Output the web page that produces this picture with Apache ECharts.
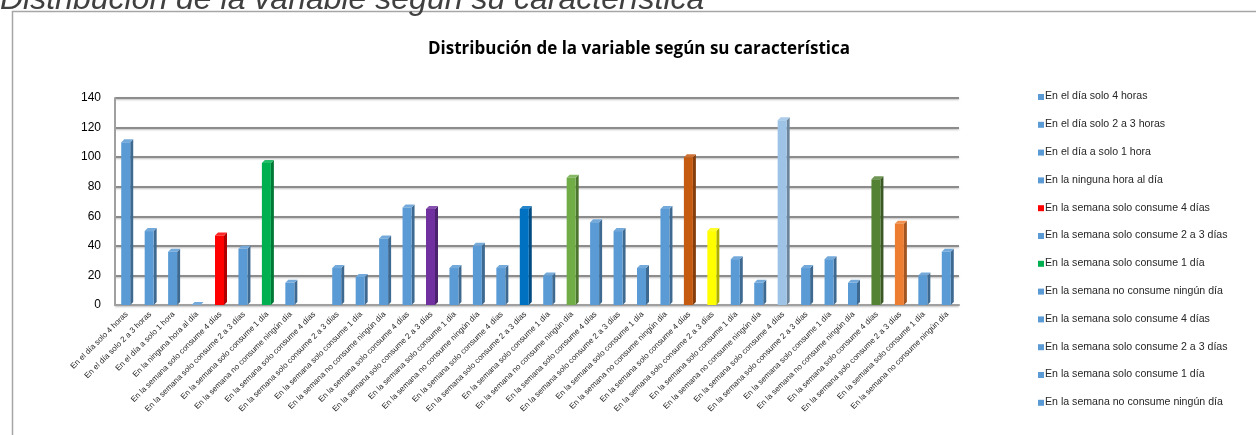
<!DOCTYPE html>
<html>
<head>
<meta charset="utf-8">
<script src="https://cdn.jsdelivr.net/npm/echarts@6/dist/echarts.min.js"></script>
<style>
  html, body { margin: 0; padding: 0; background: #fff; }
  #chart { width: 1256px; height: 435px; }
</style>
</head>
<body>
<div id="chart"></div>
<script>
// categorías del eje X (36 barras)
var categories = [
  'En el día solo 4 horas', 'En el día solo 2 a 3 horas', 'En el día a solo 1 hora', 'En la ninguna hora al día',
  'En la semana solo consume 4 días', 'En la semana solo consume 2 a 3 días', 'En la semana solo consume 1 día', 'En la semana no consume ningún día',
  'En la semana solo consume 4 días', 'En la semana solo consume 2 a 3 días', 'En la semana solo consume 1 día', 'En la semana no consume ningún día',
  'En la semana solo consume 4 días', 'En la semana solo consume 2 a 3 días', 'En la semana solo consume 1 día', 'En la semana no consume ningún día',
  'En la semana solo consume 4 días', 'En la semana solo consume 2 a 3 días', 'En la semana solo consume 1 día', 'En la semana no consume ningún día',
  'En la semana solo consume 4 días', 'En la semana solo consume 2 a 3 días', 'En la semana solo consume 1 día', 'En la semana no consume ningún día',
  'En la semana solo consume 4 días', 'En la semana solo consume 2 a 3 días', 'En la semana solo consume 1 día', 'En la semana no consume ningún día',
  'En la semana solo consume 4 días', 'En la semana solo consume 2 a 3 días', 'En la semana solo consume 1 día', 'En la semana no consume ningún día',
  'En la semana solo consume 4 días', 'En la semana solo consume 2 a 3 días', 'En la semana solo consume 1 día', 'En la semana no consume ningún día'
];

// valores
var values = [
  110, 50, 36, 0, 47, 38, 96, 15,
  null, 25, 19, 45, 66, 65, 25, 40,
  25, 65, 20, 86, 56, 50, 25, 65,
  100, 50, 31, 15, 125, 25, 31, 15,
  85, 55, 20, 36
];

var yTicks = [0, 20, 40, 60, 80, 100, 120, 140];

// colores por barra (estilo)
var BLUE = '#5B9BD5';
var specialColors = {
  4: '#FF0000', 6: '#00B050', 13: '#7030A0', 17: '#0070C0', 19: '#70AD47',
  24: '#C55A11', 25: '#FFFF00', 28: '#9DC3E6', 32: '#548235', 33: '#ED7D31'
};
var barColors = categories.map(function (c, i) { return specialColors[i] || BLUE; });

// la leyenda solo muestra las 12 primeras entradas
var legendCount = 12;

var chart = echarts.init(document.getElementById('chart'));

// oscurece/aclara un color hex: f < 1 oscurece, f > 1 aclara
function shade(hex, f) {
  var n = parseInt(hex.slice(1), 16);
  var r = (n >> 16) & 255, g = (n >> 8) & 255, b = n & 255;
  function ch(x) {
    return f < 1 ? Math.round(x * f) : Math.round(x + (255 - x) * (f - 1));
  }
  return 'rgb(' + ch(r) + ',' + ch(g) + ',' + ch(b) + ')';
}

function renderBar(params, api) {
  var v = api.value(1);
  if (v == null || isNaN(v)) return null;
  var top = api.coord([api.value(0), v]);
  var base = api.coord([api.value(0), 0]);
  var w = 9, d = 3;
  var x0 = top[0] - w / 2 - 1;
  var c = barColors[params.dataIndex];
  var side = shade(c, 0.68);
  var topC = shade(c, 1.15);
  return {
    type: 'group',
    children: [
      { type: 'polygon', shape: { points: [[x0 + w, top[1]], [x0 + w + d, top[1] - d], [x0 + w + d, base[1] - d], [x0 + w, base[1]]] }, style: { fill: side } },
      { type: 'polygon', shape: { points: [[x0, top[1]], [x0 + d, top[1] - d], [x0 + w + d, top[1] - d], [x0 + w, top[1]]] }, style: { fill: topC } },
      { type: 'rect', shape: { x: x0, y: top[1], width: w, height: base[1] - top[1] }, style: { fill: c } }
    ]
  };
}

var legendGraphics = [];
for (var i = 0; i < legendCount; i++) {
  var yy = 97 + i * 27.8;
  legendGraphics.push({
    type: 'rect', left: 1038, top: yy - 3, z: 10,
    shape: { width: 6, height: 6 }, style: { fill: barColors[i] }
  });
  legendGraphics.push({
    type: 'text', left: 1045, top: yy - 6, z: 10,
    style: { text: categories[i], font: '10.6px "Liberation Sans", Arial, sans-serif', fill: '#262626' }
  });
}

var option = {
  backgroundColor: '#fff',
  animation: false,
  title: {
    text: 'Distribución de la variable según su característica',
    left: 634,
    textAlign: 'center',
    top: 36,
    textStyle: { fontFamily: '"Open Sans", Arial, sans-serif', fontSize: 17, fontWeight: 'bold', color: '#000' }
  },
  graphic: [
    {
      type: 'rect', left: 10, top: 9, z: -1,
      shape: { width: 1260, height: 440 },
      style: { fill: 'none', stroke: '#a6a6a6', lineWidth: 1.5 }
    },
    {
      type: 'text', left: 0, top: -16,
      style: {
        text: 'Distribución de la variable según su característica',
        font: 'italic 32px "Liberation Sans", Arial, sans-serif', fill: '#404040'
      }
    }
  ].concat(legendGraphics),
  grid: { left: 115, right: 297, top: 98, bottom: 130 },
  xAxis: {
    type: 'category',
    data: categories,
    axisTick: { show: false },
    axisLine: { lineStyle: { color: '#a0a0a0', width: 2 } },
    axisLabel: {
      interval: 0, rotate: 45, fontSize: 8, margin: 8,
      fontFamily: '"Liberation Sans", Arial, sans-serif', color: '#262626'
    }
  },
  yAxis: {
    type: 'value',
    min: yTicks[0],
    max: yTicks[yTicks.length - 1],
    interval: 20,
    axisLine: { show: true, lineStyle: { color: '#a0a0a0', width: 2 } },
    axisTick: { show: false },
    axisLabel: { fontSize: 12, margin: 14, fontFamily: '"Liberation Sans", Arial, sans-serif', color: '#000' },
    splitLine: { lineStyle: { color: '#8c8c8c', width: 2, shadowColor: 'rgba(0,0,0,0.25)', shadowBlur: 2, shadowOffsetY: 1 } }
  },
  series: [{
    type: 'custom',
    renderItem: renderBar,
    data: values.map(function (v, i) { return [i, v]; }),
    encode: { x: 0, y: 1 }
  }]
};

chart.setOption(option);
</script>
</body>
</html>
